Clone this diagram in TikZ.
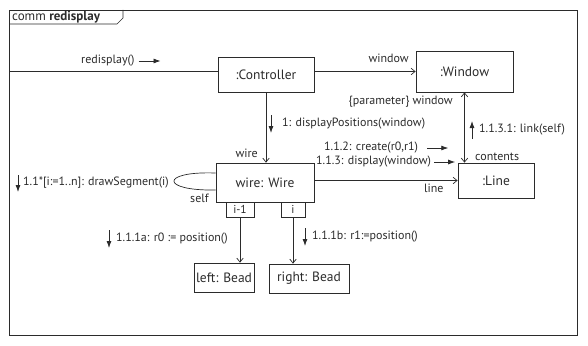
\documentclass[tikz,border=0pt]{standalone}
\usepackage{fontspec}
\setmainfont{PT Sans}
\usetikzlibrary{arrows.meta,positioning,calc}
\definecolor{UmlInk}{HTML}{2B2B2B}
\tikzset{
  objbox/.style={draw=UmlInk,line width=0.75pt,align=center,inner sep=0pt,font=\fontsize{13.5}{15}\selectfont,text=UmlInk},
  qualbox/.style={draw=UmlInk,line width=0.7pt,inner sep=0pt,minimum height=15pt,font=\fontsize{11.5}{12}\selectfont,text=UmlInk},
  msglabel/.style={inner sep=0pt,font=\fontsize{12}{13}\selectfont,text=UmlInk},
  linkline/.style={line width=0.7pt,draw=UmlInk},
  navarrow/.style={linkline,-{Straight Barb[length=4pt,width=6.5pt]}},
  msgarrow/.style={line width=0.8pt,draw=UmlInk,-{Latex[length=7pt,width=5pt]}}
}
\begin{document}
\begin{tikzpicture}[x=1pt,y=-1pt]
\useasboundingbox (0,0) rectangle (588,345);
% frame and its tab
\draw[linkline] (9,10) rectangle (577,335);
\draw[linkline] (9,24) -- (117,24) -- (123,18) -- (123,10);
\node[msglabel,anchor=west,font=\fontsize{13}{14}\selectfont] (tab) at (12,17) {comm \textbf{redisplay}};
% objects
\node[objbox,minimum width=96pt,minimum height=35pt] (ctrl) at (266,74.5) {:Controller};
\node[objbox,minimum width=97pt,minimum height=41pt] (win) at (464.5,71.5) {:Window};
\node[objbox,minimum width=76pt,minimum height=35pt] (line) at (496,180.5) {:Line};
\node[objbox,minimum width=98pt,minimum height=39pt] (wire) at (265,182.5) {wire: Wire};
\node[qualbox,minimum width=28pt,anchor=north] (qprev) at (240,202) {i-1};
\node[qualbox,minimum width=24pt,anchor=north] (qcur) at (293,202) {i};
\node[objbox,minimum width=60pt,minimum height=29pt] (lbead) at (224,277.5) {left: Bead};
\node[objbox,minimum width=80pt,minimum height=29pt] (rbead) at (309,278.5) {right: Bead};
% links
\coordinate (entry) at (9,71);
\draw[linkline] (entry) -- (entry -| ctrl.west);
\draw[navarrow] (ctrl.east |- win.west) -- (win.west);
\draw[navarrow] (ctrl.south) -- (ctrl.south |- wire.north);
\draw[linkline,{Straight Barb[length=4pt,width=6.5pt]}-{Straight Barb[length=4pt,width=6.5pt]}] (win.south) -- (win.south |- line.north);
\draw[navarrow] (wire.east |- line.west) -- (line.west);
\draw[linkline] (wire.west |- 0,173) .. controls (160,171) and (160,191) .. (wire.west |- 0,190);
\draw[navarrow] (qprev.south) -- (qprev.south |- lbead.north);
\draw[navarrow] (qcur.south) -- (qcur.south |- rbead.north);
% link ends and messages
\node[msglabel,anchor=west] (mredisp) at (81,61) {redisplay()};
\draw[msgarrow] ($(mredisp.east)+(4,0)$) -- ++(22,0);
\node[msglabel,anchor=east] (rwin) at (409,58) {window};
\node[msglabel,anchor=east] (rparam) at (453,102) {\{parameter\} window};
\node[msglabel,anchor=west] (mdisp) at (282,124) {1: displayPositions(window)};
\draw[msgarrow] (271,115) -- (271,133);
\node[msglabel,anchor=west] (mlink) at (479,130) {1.1.3.1: link(self)};
\draw[msgarrow] ($(mlink.west)+(-7,9)$) -- ++(0,-18);
\node[msglabel,anchor=west] (mcreate) at (324,148) {1.1.2: create(r0,r1)};
\draw[msgarrow] ($(mcreate.east)+(9,0)$) -- ++(21,0);
\node[msglabel,anchor=west] (mshow) at (316,162) {1.1.3: display(window)};
\draw[msgarrow] ($(mshow.east)+(3,0)$) -- ++(21,0);
\node[msglabel,anchor=west] (rcont) at (475,157) {contents};
\node[msglabel,anchor=west] (rline) at (424,188) {line};
\node[msglabel,anchor=east] (rwire) at (258,153) {wire};
\node[msglabel,anchor=west] (mseg) at (23,183) {1.1*[i:=1..n]: drawSegment(i)};
\draw[msgarrow] ($(mseg.west)+(-5,-8)$) -- ++(0,17);
\node[msglabel,anchor=west] (rself) at (190,198) {self};
\node[msglabel,anchor=west] (mposa) at (116,239) {1.1.1a: r0 := position()};
\draw[msgarrow] ($(mposa.west)+(-7,-9)$) -- ++(0,18);
\node[msglabel,anchor=west] (mposb) at (312,237) {1.1.1b: r1:=position()};
\draw[msgarrow] ($(mposb.west)+(-7,-9)$) -- ++(0,18);
\end{tikzpicture}
\end{document}
